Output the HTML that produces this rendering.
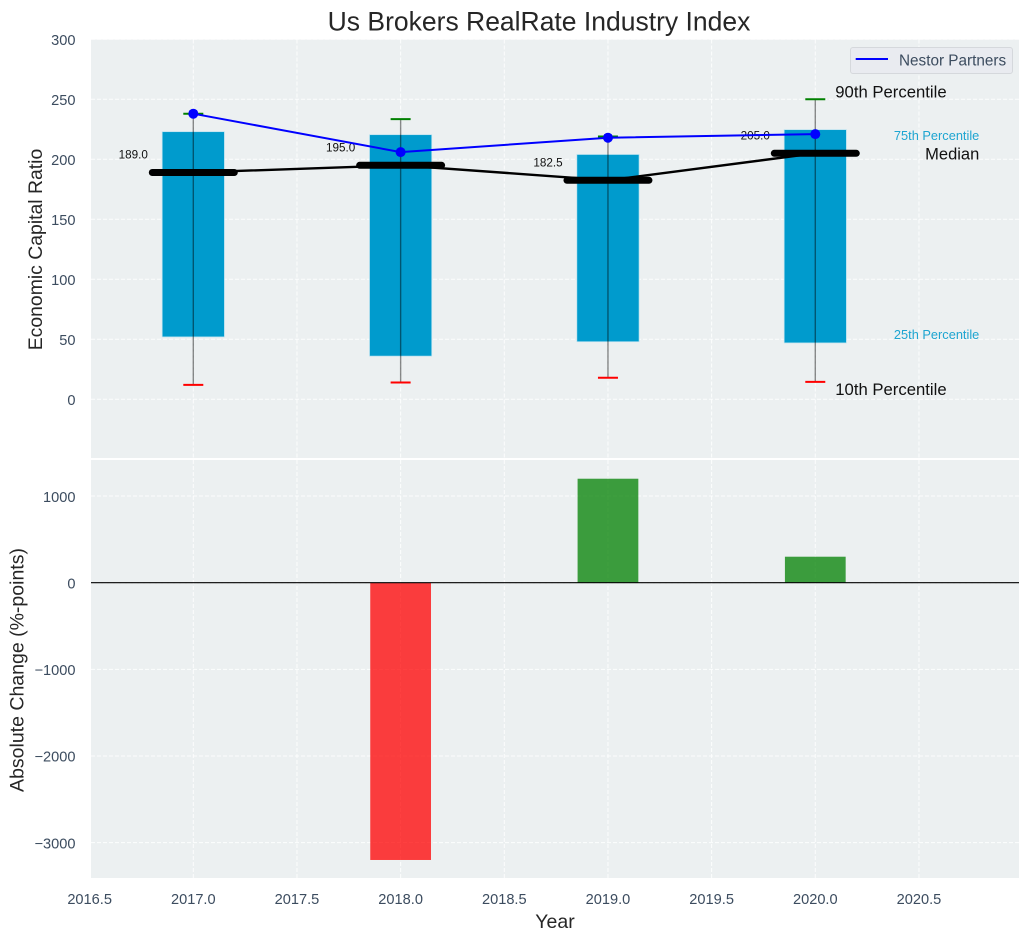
<!DOCTYPE html>
<html lang="en">
<head>
<meta charset="utf-8">
<title>Us Brokers RealRate Industry Index</title>
<style>
html,body{margin:0;padding:0;background:#fff;width:1029px;height:940px;overflow:hidden}
svg{display:block;font-family:"Liberation Sans",Arial,sans-serif}
</style>
</head>
<body>
<svg id="chart" width="1029" height="940" viewBox="0 0 1029 940" xmlns="http://www.w3.org/2000/svg"></svg>
<script>
const years = [2017, 2018, 2019, 2020];
const p90 = [238, 233.5, 219, 250];
const p75 = [223, 220.5, 204, 224.7];
const medians = [189, 195, 182.5, 205];
const p25 = [52, 36, 48, 47];
const p10 = [12, 14, 18, 14.5];
const nestorPartners = [238, 206, 218, 221];
const absoluteChange = [null, -3200, 1200, 300];
const xTicks = [2016.5, 2017, 2017.5, 2018, 2018.5, 2019, 2019.5, 2020, 2020.5];
const xTickLabels = ['2016.5', '2017.0', '2017.5', '2018.0', '2018.5', '2019.0', '2019.5', '2020.0', '2020.5'];
const topTicks = [0, 50, 100, 150, 200, 250, 300];
const bottomTicks = [-3000, -2000, -1000, 0, 1000];
const bottomTickLabels = ['\u22123000', '\u22122000', '\u22121000', '0', '1000'];

const NS = 'http://www.w3.org/2000/svg';
const svg = document.getElementById('chart');
const L = 91, R = 1019, TOP1 = 39.5, BOT1 = 458, TOP2 = 460, BOT2 = 878;
const x = v => 193.3 + (v - 2017) * 207.33;
const y1 = v => 399.3 - v * 1.2;
const y2 = v => 582.7 - v * 0.08665;

function add(tag, attrs, text) {
  const el = document.createElementNS(NS, tag);
  for (const k in attrs) el.setAttribute(k, attrs[k]);
  if (text !== undefined) el.textContent = text;
  svg.appendChild(el);
  return el;
}
function label(str, px, py, size, fill, anchor) {
  return add('text', {x: px, y: py + size * 0.35, 'font-size': size, fill: fill, 'text-anchor': anchor || 'middle'}, str);
}
let el;

el = add('rect', {x: L, y: TOP1, width: R - L, height: BOT1 - TOP1, fill: '#ecf0f1'});


el = add('rect', {x: L, y: TOP2, width: R - L, height: BOT2 - TOP2, fill: '#ecf0f1'});



const gridStyle = {stroke: '#fff', 'stroke-width': 1, 'stroke-dasharray': '4 2', 'stroke-opacity': 0.85};
xTicks.forEach(t => {
  if (x(t) < L) return;
  el = add('line', Object.assign({x1: x(t), x2: x(t), y1: TOP1, y2: BOT1}, gridStyle));
  
  
  el = add('line', Object.assign({x1: x(t), x2: x(t), y1: TOP2, y2: BOT2}, gridStyle));
  
  
});
topTicks.forEach(t => {
  el = add('line', Object.assign({x1: L, x2: R, y1: y1(t), y2: y1(t)}, gridStyle));
  
  
  el = label(String(t), 75.5, y1(t) + 0.6, 14.6, '#3c4c5f', 'end');
  
  
});
bottomTicks.forEach((t, i) => {
  el = add('line', Object.assign({x1: L, x2: R, y1: y2(t), y2: y2(t)}, gridStyle));
  
  
  el = label(bottomTickLabels[i], 75.5, y2(t) + 0.6, 14.6, '#3c4c5f', 'end');
  
  
});
xTicks.forEach((t, i) => {
  el = label(xTickLabels[i], x(t), 899, 14.6, '#3c4c5f');
  
  
});

const boxW = 0.3 * 207.33;
years.forEach((yr, i) => {
  el = add('rect', {x: x(yr) - boxW / 2, y: y1(p75[i]), width: boxW, height: y1(p25[i]) - y1(p75[i]), fill: '#009bcd', stroke: '#b8e2f0', 'stroke-width': 0.7});
  
  
  el = add('line', {x1: x(yr), x2: x(yr), y1: y1(p90[i]), y2: y1(p10[i]), stroke: '#000', 'stroke-opacity': 0.45, 'stroke-width': 1.4});
  
  
  el = add('line', {x1: x(yr) - 10, x2: x(yr) + 10, y1: y1(p90[i]), y2: y1(p90[i]), stroke: '#008000', 'stroke-width': 2});
  
  
  el = add('line', {x1: x(yr) - 10, x2: x(yr) + 10, y1: y1(p10[i]), y2: y1(p10[i]), stroke: '#ff0000', 'stroke-width': 2});
  
  
});

el = add('polyline', {points: years.map((yr, i) => x(yr) + ',' + y1(medians[i])).join(' '), fill: 'none', stroke: '#000', 'stroke-width': 2.4});


years.forEach((yr, i) => {
  el = add('line', {x1: x(yr) - 41, x2: x(yr) + 41, y1: y1(medians[i]), y2: y1(medians[i]), stroke: '#000', 'stroke-width': 7, 'stroke-linecap': 'round'});
  
  
  el = label(medians[i].toFixed(1), x(yr) - 60, y1(medians[i]) - 18, 11.7, '#111');
  
  
});

el = add('polyline', {points: years.map((yr, i) => x(yr) + ',' + y1(nestorPartners[i])).join(' '), fill: 'none', stroke: '#0000ff', 'stroke-width': 2});


years.forEach((yr, i) => {
  el = add('circle', {cx: x(yr), cy: y1(nestorPartners[i]), r: 5, fill: '#0000ff'});
  
  
});

const last = years.length - 1;
const lastX = x(years[last]);
el = label('90th Percentile', lastX + 20, y1(p90[last]) - 7.6, 16.7, '#111', 'start');


el = label('75th Percentile', 979.3, y1(p75[last]) + 6, 12.8, '#1ea5d1', 'end');


el = label('Median', 979.3, y1(medians[last]) + 0.2, 16.5, '#111', 'end');


el = label('25th Percentile', 979.3, y1(p25[last]) - 8.3, 12.8, '#1ea5d1', 'end');


el = label('10th Percentile', lastX + 20, y1(p10[last]) + 7.4, 16.7, '#111', 'start');



const changeW = 0.293 * 207.33;
years.forEach((yr, i) => {
  const v = absoluteChange[i];
  if (v === null) return;
  const top = Math.min(y2(v), y2(0));
  const h = Math.abs(y2(v) - y2(0));
  const col = v < 0 ? '#ff0000' : '#008000';
  el = add('rect', {x: x(yr) - changeW / 2, y: top, width: changeW, height: h, fill: col, 'fill-opacity': 0.75});
  
  
});
el = add('line', {x1: L, x2: R, y1: y2(0), y2: y2(0), stroke: '#000', 'stroke-width': 1.2});



el = add('rect', {x: 850.5, y: 47.5, width: 162, height: 26, rx: 2.5, fill: '#e9ebf0', stroke: '#d5d8dc', 'stroke-width': 1});


el = add('line', {x1: 855.7, x2: 888, y1: 59, y2: 59, stroke: '#0000ff', 'stroke-width': 2});


el = label('Nestor Partners', 899, 60, 15.3, '#3c4c5f', 'start');



el = label('Us Brokers RealRate Industry Index', 539, 21, 26.5, '#262626');


el = label('Year', 555, 921, 19.5, '#262626');


el = label('Economic Capital Ratio', 0, 0, 19.4, '#262626');
el.setAttribute('transform', 'translate(35 249.5) rotate(-90)');


el = label('Absolute Change (%-points)', 0, 0, 19.5, '#262626');
el.setAttribute('transform', 'translate(16.5 670) rotate(-90)');


</script>
</body>
</html>
